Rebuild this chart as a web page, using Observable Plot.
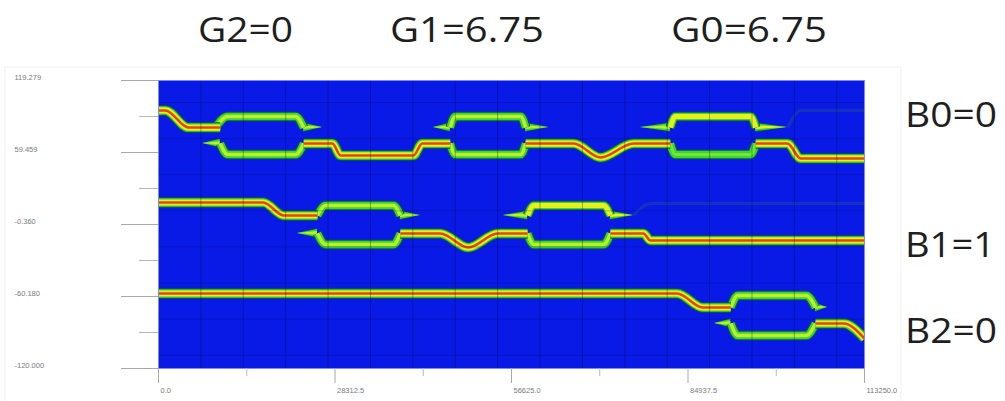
<!DOCTYPE html>
<html><head><meta charset="utf-8">
<script src="https://cdn.jsdelivr.net/npm/d3@7"></script>
<script src="https://cdn.jsdelivr.net/npm/@observablehq/plot@0.6"></script>
<style>
html,body{margin:0;padding:0;background:#fff;}
#chart{position:relative;width:1005px;height:401px;overflow:hidden;}
</style></head><body><div id="chart"></div>
<script>
// ---- axis ticks ----
const xTicks = [0, 28312.5, 56625, 84937.5, 113250];
const xTickLabels = ["0.0", "28312.5", "56625.0", "84937.5", "113250.0"];
const xMinorTicks = [14156.25, 42468.75, 70781.25, 99093.75];
const yTicks = [119.279, 59.459, -0.36, -60.18, -120];
const yTickLabels = ["119.279", "59.459", "-0.360", "-60.180", "-120.000"];
const yMinorTicks = [89.369, 29.55, -30.27, -90.09];

// simulation mesh lines
const meshX = [6800, 13600, 20400, 27200, 34000, 40800, 47600, 54400, 61200, 68000, 74800, 81600, 88400, 95200, 102000, 108800];
const meshY = [101, 71, 41, 11, -19, -49, -79, -109];

// annotation texts
const topLabels = ["G2=0", "G1=6.75", "G0=6.75"];
const sideLabels = ["B0=0", "B1=1", "B2=0"];

// ---- full-power beams (x: propagation, y: transverse) ----
const fullBeams = [
  {id: "b0a", pts: [[0, 94.4], [1100, 94.4], [4800, 80.2], [9900, 80.2]]},
  {id: "b0b", pts: [[23300, 66.9], [27900, 66.9], [29200, 57.0], [40900, 57.0], [42300, 66.9], [46800, 66.9]]},
  {id: "b0c", pts: [[58900, 66.9], [66600, 66.9], [70900, 55.3], [76200, 66.9], [82100, 66.9]]},
  {id: "b0d", pts: [[95800, 66.9], [100900, 66.9], [103000, 54.5], [113250, 54.5]]},
  {id: "b1a", pts: [[0, 17.9], [16800, 17.9], [20100, 7.1], [25500, 7.1]]},
  {id: "b1b", pts: [[38800, -7.8], [45200, -7.8], [49700, -19.5], [54400, -7.8], [59200, -7.8]]},
  {id: "b1c", pts: [[72500, -7.8], [77800, -7.8], [78900, -13.6], [113250, -13.6]]},
  {id: "b2a", pts: [[0, -57.7], [83200, -57.7], [87300, -69.3], [91800, -69.3]]},
  {id: "b2b", pts: [[105400, -82.6], [109900, -82.6], [113250, -95.1]]}
];

// ---- interferometer arms (split power) ----
const armBeams = [
  {id: "u01", level: "half", pts: [[9100, 80.2], [11100, 89.4], [22000, 89.4], [23300, 80.2]]},
  {id: "l01", level: "half", pts: [[9900, 66.9], [11100, 57.8], [22000, 57.8], [23300, 66.9]]},
  {id: "u02", level: "half", pts: [[46800, 80.2], [47600, 89.4], [58100, 89.4], [58900, 80.2]]},
  {id: "l02", level: "half", pts: [[46800, 66.9], [47600, 57.8], [58100, 57.8], [58900, 66.9]]},
  {id: "u03", level: "strong", pts: [[82100, 80.2], [82900, 89.4], [95000, 89.4], [95800, 80.2]]},
  {id: "l03", level: "weak", pts: [[82100, 66.9], [82900, 57.8], [95000, 57.8], [95800, 66.9]]},
  {id: "u11", level: "half", pts: [[25500, 7.1], [26800, 15.4], [37700, 15.4], [38800, 7.1]]},
  {id: "l11", level: "half", pts: [[25500, -7.8], [26800, -17.0], [37700, -17.0], [38800, -7.8]]},
  {id: "u12", level: "strong", pts: [[59200, 7.1], [60200, 15.4], [71400, 15.4], [72500, 7.1]]},
  {id: "l12", level: "half", pts: [[59200, -7.8], [60200, -17.0], [71400, -17.0], [72500, -7.8]]},
  {id: "u21", level: "half", pts: [[91800, -69.3], [92900, -59.3], [103900, -59.3], [105400, -69.3]]},
  {id: "l21", level: "half", pts: [[91800, -82.6], [92900, -92.6], [103900, -92.6], [105400, -82.6]]}
];

// ---- coupler tapers: [tip x, wide x, y, level] ----
const tapers = [
  [7100, 9900, 66.9, "half"],
  [26300, 23300, 80.2, "half"],
  [44100, 46800, 80.2, "half"],
  [62600, 58900, 80.2, "half"],
  [77300, 82100, 80.2, "half"],
  [100900, 95800, 80.2, "strong"],
  [22300, 25500, -7.8, "half"],
  [42000, 38800, 7.1, "half"],
  [55300, 59200, 7.1, "half"],
  [76200, 72500, 7.1, "strong"],
  [89200, 91800, -82.6, "half"],
  [107300, 105400, -69.3, "half"]
];

// ---- unlit output guides ----
const dimBeams = [
  {id: "d0", pts: [[100900, 80.2], [103000, 94.4], [113250, 94.4]]},
  {id: "d1", pts: [[76200, 7.1], [78900, 17.1], [113250, 17.1]]}
];

// ---------------------------------------------------------------
const W = 1005, H = 401;
const mL = 158, mR = 141, mT = 80, mB = 33;
const yDom = [-120, 119.279];
const kY = (yDom[1] - yDom[0]) / (H - mT - mB); // data units per pixel

const rows = (paths) => paths.flatMap(p => p.pts.map(([x, y]) => ({id: p.id, level: p.level, x, y})));
const fullRows = rows(fullBeams);
const armRows = rows(armBeams);
const dimRows = rows(dimBeams);

const taperRows = (hwPx) => tapers.flatMap((t, i) => {
  const [tip, wide, y, level] = t;
  const a = {id: "t" + i, level, x: tip, y1: y, y2: y};
  const b = {id: "t" + i, level, x: wide, y1: y - hwPx * kY, y2: y + hwPx * kY};
  return tip < wide ? [a, b] : [b, a];
});

const BLUE = "#0a1ae6";
const EDGE = "#0c5a48";
const GREEN = "#3ad82c";
const YEL = "#e8f01c";
const LIME = "#bdee2a";
const RED = "#e2461a";
const curve = "monotone-x";
const lineOpts = (o) => ({x: "x", y: "y", z: "id", curve, clip: true, strokeLinecap: "butt", strokeLinejoin: "round", ...o});

const xLab = new Map(xTicks.map((d, i) => [d, xTickLabels[i]]));
const yLab = new Map(yTicks.map((d, i) => [d, yTickLabels[i]]));

const svg = Plot.plot({
  width: W, height: H,
  marginLeft: mL, marginRight: mR, marginTop: mT, marginBottom: mB,
  style: {background: "transparent", fontFamily: "Liberation Sans, Arial, sans-serif"},
  x: {domain: [0, 113250], label: null},
  y: {domain: yDom, label: null},
  marks: [
    Plot.frame({fill: BLUE, stroke: null}),
    // unlit guides
    Plot.line(dimRows, lineOpts({stroke: "#1a3ab0", strokeWidth: 3, strokeOpacity: 0.75})),
    // tapers
    Plot.areaY(taperRows(5.0), {x: "x", y1: "y1", y2: "y2", z: "id", fill: EDGE, curve: "linear", clip: true}),
    Plot.areaY(taperRows(4.0), {x: "x", y1: "y1", y2: "y2", z: "id", fill: GREEN, curve: "linear", clip: true}),
    Plot.areaY(taperRows(1.9), {x: "x", y1: "y1", y2: "y2", z: "id", fill: d => d.level === "strong" ? YEL : LIME, curve: "linear", clip: true}),
    // arms
    Plot.line(armRows, lineOpts({stroke: EDGE, strokeWidth: 9.5})),
    Plot.line(armRows, lineOpts({stroke: GREEN, strokeWidth: 7.5})),
    Plot.line(armRows.filter(d => d.level === "strong"), lineOpts({stroke: YEL, strokeWidth: 5})),
    Plot.line(armRows.filter(d => d.level === "half"), lineOpts({stroke: LIME, strokeWidth: 3.5})),
    Plot.line(armRows.filter(d => d.level === "weak"), lineOpts({stroke: "#74e636", strokeWidth: 3})),
    // full beams
    Plot.line(fullRows, lineOpts({stroke: EDGE, strokeWidth: 10.5})),
    Plot.line(fullRows, lineOpts({stroke: GREEN, strokeWidth: 8.5})),
    Plot.line(fullRows, lineOpts({stroke: YEL, strokeWidth: 6.2})),
    Plot.line(fullRows, lineOpts({stroke: RED, strokeWidth: 2.6})),
    // mesh
    Plot.ruleX(meshX, {stroke: "#05063a", strokeOpacity: 0.32, strokeWidth: 1}),
    Plot.ruleY(meshY, {stroke: "#05063a", strokeOpacity: 0.22, strokeWidth: 1}),
    Plot.frame({stroke: "#7f8af0", strokeWidth: 1}),
    // axes: ticks
    Plot.axisY(yTicks, {tickSize: 37, tickFormat: () => "", stroke: "#a8a8a8"}),
    Plot.axisY(yMinorTicks, {tickSize: 19, tickFormat: () => "", stroke: "#b8b8b8"}),
    Plot.axisX(xTicks, {tickSize: 15, tickFormat: () => "", stroke: "#a8a8a8"}),
    Plot.axisX(xMinorTicks, {tickSize: 8, tickFormat: () => "", stroke: "#b8b8b8"}),
    // axes: labels
    Plot.axisY(yTicks, {tickSize: 0, tickPadding: 0, tickFormat: d => yLab.get(d), textAnchor: "start", dx: -144, dy: -3, fontSize: 7.5, fill: "#7a7a7a", stroke: null}),
    Plot.axisX(xTicks, {tickSize: 0, tickPadding: 19, tickFormat: d => xLab.get(d), textAnchor: "start", dx: 2, fontSize: 7.5, fill: "#7a7a7a", stroke: null})
  ]
});

const g = d3.select(svg).insert("g", ":first-child");
g.append("rect").attr("x", 5).attr("y", 67).attr("width", 896).attr("height", 340)
  .attr("fill", "none").attr("stroke", "#efefef").attr("stroke-width", 1);

const ann = d3.select(svg).append("g")
  .attr("font-family", "Open Sans, Liberation Sans, sans-serif")
  .attr("text-anchor", "start")
  .attr("font-size", 34).attr("fill", "#1e1e1e");
const topPos = [[198, 95], [390, 154], [671, 156]];
topLabels.forEach((t, i) => {
  ann.append("text").attr("x", topPos[i][0]).attr("y", 42)
    .attr("textLength", topPos[i][1]).attr("lengthAdjust", "spacingAndGlyphs").text(t);
});
const sideY = [127, 257, 343];
sideLabels.forEach((t, i) => {
  ann.append("text").attr("x", 905).attr("y", sideY[i])
    .attr("textLength", i === 1 ? 90 : 92).attr("lengthAdjust", "spacingAndGlyphs").text(t);
});

document.getElementById("chart").appendChild(svg);
</script></body></html>
